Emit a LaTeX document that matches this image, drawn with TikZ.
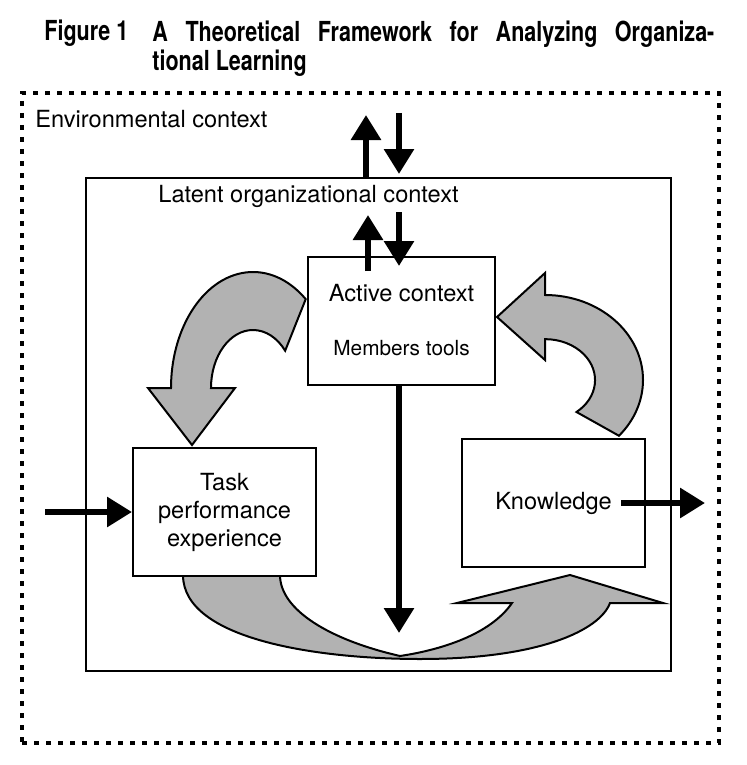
\documentclass[tikz,border=0pt]{standalone}
\usepackage{fontspec}
\setmainfont{TeX Gyre Heros}
\newfontfamily\figtitlefont[FakeStretch=0.78]{TeX Gyre Heros}
\usetikzlibrary{arrows.meta}
\tikzset{
  box/.style={draw, fill=white, line width=1pt, minimum width=91.5pt, minimum height=64pt,
    inner sep=0pt, align=center, font=\fontsize{11.8}{14}\selectfont},
  envbox/.style={draw, line width=2pt, dash pattern=on 2.5pt off 3.5pt, inner sep=0pt},
  latentbox/.style={draw, line width=1pt, inner sep=0pt},
  lbl/.style={inner sep=0pt, font=\fontsize{11.8}{14}\selectfont},
  ttl/.style={inner sep=0pt, font=\figtitlefont\fontsize{13.8}{13.3}\selectfont\bfseries},
  bigarr/.style={line width=3pt, -{Triangle[width=14.5pt,length=12.5pt]}},
  band/.style={draw, line width=1pt, fill=black!30, line join=miter},
}

\begin{document}
\begin{tikzpicture}[x=0.5pt, y=-0.5pt]
  \useasboundingbox (0,0) rectangle (746,765);

  % title
  \node[ttl, anchor=base west] (fig) at (44,41) {Figure 1};
  \node[ttl, anchor=north west, text width=281pt, align=justify] (title) at (152,20.5)
    {A Theoretical Framework for Analyzing Organiza-\linebreak tional Learning};

  % contexts
  \node[envbox, minimum width=348.5pt, minimum height=325pt] (env) at (370.5,418) {};
  \node[latentbox, minimum width=292.5pt, minimum height=246.5pt] (latent) at (378.5,424.5) {};
  \node[lbl, anchor=base west] (envlbl) at (35,127) {Environmental context};
  \node[lbl, anchor=base west] (latlbl) at (158,202) {Latent organizational context};

  % learning cycle
  \draw[band] (253,388) ++(-50:82 and 116) arc[start angle=-50, end angle=-180, x radius=82, y radius=116]
    -- (148,388) -- (192,445) -- (235,388) -- (211,388)
    arc[start angle=180, end angle=320, x radius=42, y radius=58] -- cycle;
  \draw[band] (497,317) -- (545,273) -- (545,295)
    arc[start angle=-90, end angle=41, x radius=98, y radius=85]
    -- (576.5,412) arc[start angle=51, end angle=-90, x radius=50, y radius=41]
    -- (545,360) -- cycle;
  \draw[band] (183,575) .. controls (183,640) and (320,659) .. (420,659)
    .. controls (540,659) and (600,630) .. (610,603)
    -- (663,603) -- (570,575) -- (457,603) -- (512,603)
    .. controls (490,635) and (440,650) .. (400,656)
    .. controls (330,640) and (280,610) .. (280,575) -- cycle;

  % boxes
  \node[box, minimum width=93.5pt] (active) at (401.5,321) {};
  \node[lbl, anchor=base] (acttitle) at (401.5,301) {Active context};
  \node[lbl, anchor=base, font=\fontsize{10.4}{12}\selectfont] (acttools) at (401.5,355) {Members tools};
  \node[box] (task) at (224.5,512) {Task\\performance\\experience};
  \node[box] (know) at (553.5,503) {Knowledge};

  % flows
  \coordinate (in) at (45,512);
  \coordinate (out) at (705,503);
  \draw[bigarr] ([xshift=-6.25pt]latent.north) -- ++(0,-62);
  \draw[bigarr] ([xshift=10.25pt,yshift=32pt]latent.north) -- ([xshift=10.25pt,yshift=1.5pt]latent.north);
  \draw[bigarr] ([xshift=-16.75pt,yshift=-7.5pt]active.north) -- ++(0,-56);
  \draw[bigarr] ([xshift=-1.25pt,yshift=22pt]active.north) -- ([xshift=-1.25pt,yshift=-5pt]active.north);
  \draw[bigarr] ([xshift=-1.25pt]active.south) -- ++(0,247);
  \draw[bigarr] (in) -- (task.west);
  \draw[bigarr] ([xshift=-12.5pt]know.east) -- (out);
\end{tikzpicture}
\end{document}
